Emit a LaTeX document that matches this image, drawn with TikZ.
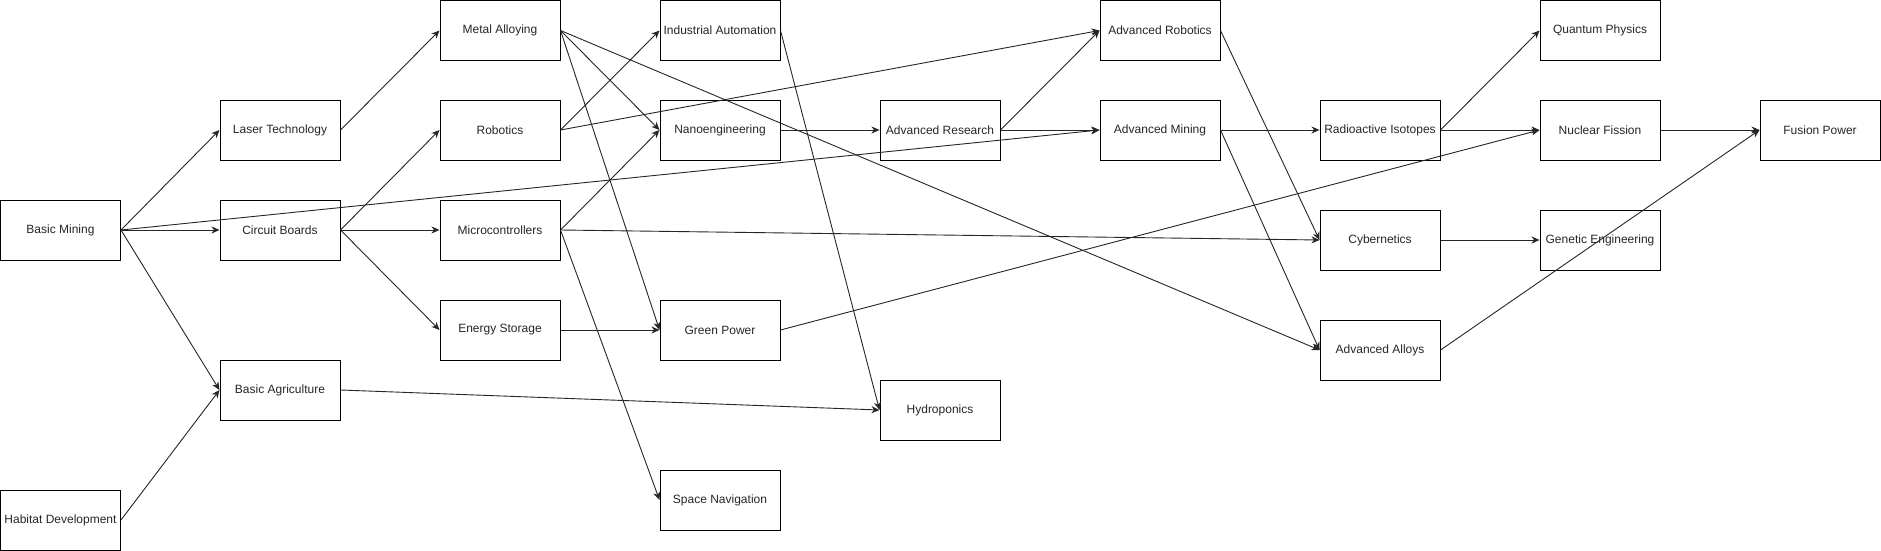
\documentclass[tikz,border=0pt]{standalone}
\usepackage{fontspec}
\setmainfont{Liberation Sans}
\usetikzlibrary{arrows.meta}
\begin{document}
\begin{tikzpicture}[x=1pt,y=-1pt,
  box/.style={draw=black,line width=1pt,minimum width=120pt,minimum height=60pt,inner sep=0pt,
    font=\fontsize{12}{14}\selectfont,text=black!85,fill=white},
  link/.style={draw=black!85,line width=0.9pt,-{Stealth[length=8pt,width=7pt,inset=2.5pt]}}]
\useasboundingbox (0,0) rectangle (1881,551);
\fill[white] (0,0) rectangle (1881,551);
% links drawn first
\coordinate (dummy) at (0,0);
% nodes
\begin{scope}[every node/.style={box}]
\node (bm) at (60.5,230) {Basic Mining};
\node (hd) at (60.5,520) {Habitat Development};
\node (lt) at (280,130) {Laser Technology};
\node (cb) at (280,230) {Circuit Boards};
\node (ba) at (280,390) {Basic Agriculture};
\node (ma) at (500,30.5) {Metal Alloying};
\node (ro) at (500,130) {Robotics};
\node (mc) at (500,230) {Microcontrollers};
\node (es) at (500,330) {Energy Storage};
\node (ia) at (720,30.5) {Industrial Automation};
\node (ne) at (720,130) {Nanoengineering};
\node (gp) at (720,330) {Green Power};
\node (sn) at (720,500) {Space Navigation};
\node (ar) at (940,130) {Advanced Research};
\node (hy) at (940,410) {Hydroponics};
\node (arb) at (1160,30.5) {Advanced Robotics};
\node (am) at (1160,130) {Advanced Mining};
\node (ri) at (1380,130) {Radioactive Isotopes};
\node (cy) at (1380,240) {Cybernetics};
\node (aa) at (1380,350) {Advanced Alloys};
\node (qp) at (1600,30.5) {Quantum Physics};
\node (nf) at (1600,130) {Nuclear Fission};
\node (ge) at (1600,240) {Genetic Engineering};
\node (fp) at (1820,130) {Fusion Power};
\end{scope}
% connectors
\foreach \a/\b in {bm/lt,bm/cb,bm/ba,bm/am,hd/ba,lt/ma,cb/ro,cb/mc,cb/es,ba/hy,
  ma/ne,ma/gp,ma/aa,ro/ia,ro/arb,mc/ne,mc/cy,mc/sn,es/gp,ia/hy,ne/ar,gp/nf,
  ar/arb,ar/am,arb/cy,am/ri,am/aa,ri/qp,ri/nf,cy/ge,aa/fp,nf/fp}
  \draw[link] (\a.east) -- (\b.west);
\end{tikzpicture}
\end{document}
